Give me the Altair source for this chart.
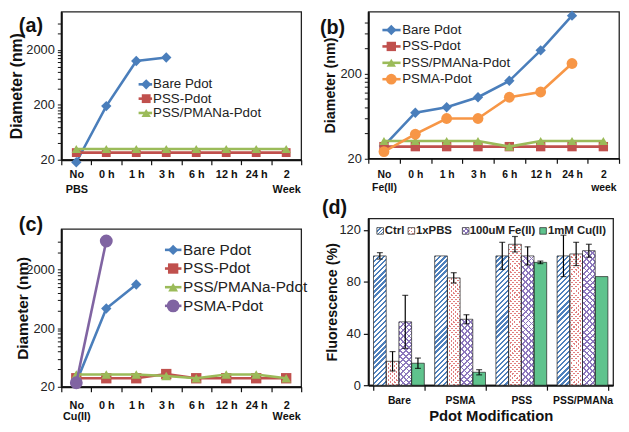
import math
import altair as alt
import pandas as pd

FONT = "Liberation Sans"
BLUE = "#4a7ebb"
RED = "#c0504d"
GREEN = "#9bbb59"
ORANGE = "#f79646"
PURPLE = "#8064a2"
INK = "#111111"

# ---------------- data: panel (a) ----------------
a_cats = ["No|PBS", "0 h", "1 h", "3 h", "6 h", "12 h", "24 h", "2|Week"]
a_names = ["Bare Pdot", "PSS-Pdot", "PSS/PMANa-Pdot"]
a_bare = [18, 190, 1260, 1460, None, None, None, None]
a_pss = [27, 27, 27, 27, 27, 27, 27, 27]
a_pmana = [31.5, 31.5, 31.5, 31.5, 31.5, 31.5, 31.5, 31.5]

# ---------------- data: panel (b) ----------------
b_cats = ["No|Fe(II)", "0 h", "1 h", "3 h", "6 h", "12 h", "24 h", "2|week"]
b_names = ["Bare Pdot", "PSS-Pdot", "PSS/PMANa-Pdot", "PSMA-Pdot"]
b_bare = [28, 69, 80, 105, 164, 375, 960, None]
b_pss = [27.5, 27.5, 27.5, 27.5, 27.5, 27.5, 27.5, 27.5]
b_pmana = [32, 32, 32, 32, 27.5, 32, 32, 32]
b_psma = [24, 38.5, 59, 59, 105, 121, 262, None]

# ---------------- data: panel (c) ----------------
c_cats = ["No|Cu(II)", "0 h", "1 h", "3 h", "6 h", "12 h", "24 h", "2|Week"]
c_names = ["Bare Pdot", "PSS-Pdot", "PSS/PMANa-Pdot", "PSMA-Pdot"]
c_bare = [24, 436, 1120, None, None, None, None, None]
c_pss = [28, 28, 28, 33, 28, 28, 28, 28]
c_pmana = [32.5, 32.5, 32.5, 30.5, 28, 32.5, 32.5, 28]
c_psma = [23.5, 6200, None, None, None, None, None, None]

# ---------------- data: panel (d) ----------------
d_groups = ["Bare", "PSMA", "PSS", "PSS/PMANa"]
d_conds = ["Ctrl", "1xPBS", "100uM Fe(II)", "1mM Cu(II)"]
d_ctrl = [100, 100, 100, 100]
d_ctrl_err = [2.5, 0, 10.5, 16]
d_pbs = [18.5, 83, 109, 101.5]
d_pbs_err = [7.5, 4, 6, 9]
d_fe = [49, 51, 100, 104]
d_fe_err = [20.5, 3.5, 7, 5]
d_cu = [17, 10, 95, 84]
d_cu_err = [4, 2, 1, 0]

ONE = pd.DataFrame({"k": [0]})


def log_ticks(tmax):
    vals = []
    base = 20
    while base <= tmax:
        for k in range(1, 10):
            if base * k <= tmax:
                vals.append(base * k)
        base *= 10
    return vals


def stripes(c1, c2, w, h, period, frac, direction):
    r = w / h
    s = (r + 1) / (r * r + 1)
    n = max(1, int(round((w + h) / (period * math.sqrt(2)))))
    stops = []
    for k in range(n):
        o0, o1, o2 = k / n, (k + frac) / n, (k + 1) / n
        stops += [alt.GradientStop(color=c1, offset=o0), alt.GradientStop(color=c1, offset=o1),
                  alt.GradientStop(color=c2, offset=o1), alt.GradientStop(color=c2, offset=o2)]
    if direction == "/":
        return alt.LinearGradient(gradient="linear", stops=stops, x1=0, y1=0, x2=s * r, y2=s)
    return alt.LinearGradient(gradient="linear", stops=stops, x1=0, y1=1, x2=s * r, y2=1 - s)


def diameter_panel(cats, names, series, colors, shapes, sizes, W, H, ymax, tmax, ylabels,
                   plabel, plabel_xy, leg, leg_font, ytitle_size, y_extent,
                   xlab_size, xlab_pad, xlab_lh):
    ticks = log_ticks(tmax)
    cond = " || ".join("datum.value == %d" % v for v in ylabels)
    x_enc = alt.X(
        "cat:N",
        scale=alt.Scale(type="band", domain=cats, paddingInner=0, paddingOuter=0),
        axis=alt.Axis(title=None, labelExpr="split(datum.label, '|')", labelAngle=0,
                      tickBand="extent", labelFont=FONT, labelFontSize=xlab_size,
                      labelFontWeight="bold", labelColor=INK, labelPadding=xlab_pad,
                      labelLineHeight=xlab_lh, labelBaseline="top", tickSize=5,
                      tickColor=INK, tickWidth=1.2, domainColor=INK, domainWidth=2,
                      grid=False),
    )
    y_enc = alt.Y(
        "v:Q",
        scale=alt.Scale(type="log", domain=[20, ymax]),
        axis=alt.Axis(title="Diameter (nm)", values=ticks,
                      labelExpr="(%s) ? format(datum.value, 'd') : ''" % cond,
                      labelOverlap=False, labelFont=FONT, labelFontSize=13,
                      labelColor="#222", labelPadding=3, tickSize=4, tickColor=INK,
                      tickWidth=1, domainColor=INK, domainWidth=2, titleFont=FONT,
                      titleFontSize=ytitle_size, titleFontWeight="bold", titleColor=INK,
                      titlePadding=0, minExtent=y_extent, maxExtent=y_extent, grid=False),
    )
    layers = []
    for name, vals, col, shp, sz in zip(names, series, colors, shapes, sizes):
        df = pd.DataFrame({"cat": [c for c, v in zip(cats, vals) if v is not None],
                           "v": [v for v in vals if v is not None]})
        layers.append(alt.Chart(df).mark_line(color=col, strokeWidth=2.6).encode(x=x_enc, y=y_enc))
        layers.append(alt.Chart(df).mark_point(shape=shp, size=sz, filled=True, color=col,
                                               opacity=1).encode(x=x_enc, y=y_enc))
    lx0, lx1, lxm, lxt, ly0, ldy = leg
    for i, (name, col, shp, sz) in enumerate(zip(names, colors, shapes, sizes)):
        yy = ly0 + i * ldy
        layers.append(alt.Chart(ONE).mark_rule(color=col, strokeWidth=2.6).encode(
            x=alt.value(lx0), x2=alt.value(lx1), y=alt.value(yy)))
        layers.append(alt.Chart(ONE).mark_point(shape=shp, size=sz, filled=True, color=col,
                                                opacity=1).encode(x=alt.value(lxm), y=alt.value(yy)))
        layers.append(alt.Chart(ONE).mark_text(align="left", baseline="middle", font=FONT,
                                               fontSize=leg_font, color="#222").encode(
            x=alt.value(lxt), y=alt.value(yy), text=alt.value(name)))
    layers.append(alt.Chart(ONE).mark_text(align="left", baseline="middle", font=FONT,
                                           fontSize=20, fontWeight="bold", color=INK).encode(
        x=alt.value(plabel_xy[0]), y=alt.value(plabel_xy[1]), text=alt.value(plabel)))
    return alt.layer(*layers).properties(width=W, height=H)


panel_a = diameter_panel(
    a_cats, a_names, [a_bare, a_pss, a_pmana], [BLUE, RED, GREEN],
    ["diamond", "square", "triangle-up"], [110, 80, 90], 243, 150, 10000, 6000,
    [20, 200, 2000],
    "(a)", (-43, 14.3), (78.3, 92, 86, 93, 73.6, 14.5), 13.5, 16, 37, 11, 4, 15)

panel_b = diameter_panel(
    b_cats, b_names, [b_bare, b_pss, b_pmana, b_psma], [BLUE, RED, GREEN, ORANGE],
    ["diamond", "square", "triangle-up", "circle"], [110, 90, 90, 120], 254, 148.6, 1069, 800,
    [20, 200],
    "(b)", (-49, 16.8), (14.3, 32.7, 23.3, 34.3, 18.6, 16.6), 13.5, 14.5, 31, 10.5, 6, 13.5)

panel_c = diameter_panel(
    c_cats, c_names, [c_bare, c_pss, c_pmana, c_psma], [BLUE, RED, GREEN, PURPLE],
    ["diamond", "square", "triangle-up", "circle"], [110, 110, 100, 170], 243, 160, 10000, 6000,
    [20, 200, 2000],
    "(c)", (-43, -4), (105, 121.7, 113.3, 123.3, 21.3, 18.9), 15.5, 15.5, 31, 11, 8, 11.5)

# ---------------- panel (d): grouped bars ----------------
DW, DH, DMAX = 248, 169, 129
PI, PO = 0.17, 0.085
step = DW / (len(d_groups) - PI + 2 * PO)
bar_w = step * (1 - PI) / len(d_conds)

rows = []
for gi, g in enumerate(d_groups):
    for cname, vals, errs in zip(d_conds, [d_ctrl, d_pbs, d_fe, d_cu],
                                 [d_ctrl_err, d_pbs_err, d_fe_err, d_cu_err]):
        rows.append({"group": g, "cond": cname, "v": vals[gi],
                     "lo": vals[gi] - errs[gi], "hi": vals[gi] + errs[gi], "err": errs[gi]})
d_df = pd.DataFrame(rows)

dx = alt.X("group:N", scale=alt.Scale(domain=d_groups, paddingInner=PI, paddingOuter=PO),
           axis=alt.Axis(title="Pdot Modification", labelAngle=0, tickBand="extent",
                         labelFont=FONT, labelFontSize=10.5, labelFontWeight="bold",
                         labelColor=INK, labelPadding=6, tickSize=5, tickColor=INK,
                         tickWidth=1.2, domainColor=INK, domainWidth=2, titleFont=FONT,
                         titleFontSize=15, titleFontWeight="bold", titleColor=INK,
                         titlePadding=2, grid=False))
dxo = alt.XOffset("cond:N", scale=alt.Scale(domain=d_conds, paddingInner=0, paddingOuter=0))
dy_ = alt.Y("v:Q", scale=alt.Scale(domain=[0, DMAX], nice=False),
            axis=alt.Axis(title="Fluorescence (%)", values=[0, 20, 40, 60, 80, 100, 120],
                          labelFont=FONT, labelFontSize=13, labelColor="#222", labelPadding=3,
                          tickSize=5, tickColor=INK, tickWidth=1.2, domainColor=INK,
                          domainWidth=2, titleFont=FONT, titleFontSize=14.5,
                          titleFontWeight="bold", titleColor=INK, titlePadding=0,
                          minExtent=29, maxExtent=29, grid=False))

CTRL_C, PBS_C, FE_C, CU_C = "#4f81bd", "#e07f7f", "#8d78bd", "#5fc38d"
CLEAR = "rgba(255,255,255,0)"


def fills_for(cond, w, h, small=False):
    if cond == "Ctrl":
        return [stripes(CTRL_C, "white", w, h, 3.6 if not small else 2.4, 0.45, "/")]
    if cond == "1xPBS":
        return [stripes(PBS_C, "white", w, h, 3.0 if not small else 2.2, 0.5, "/"),
                stripes("white", CLEAR, w, h, 3.0 if not small else 2.2, 0.5, "\\")]
    if cond == "100uM Fe(II)":
        return [stripes(FE_C, "white", w, h, 4.2 if not small else 3.0, 0.3, "/"),
                stripes(FE_C, CLEAR, w, h, 4.2 if not small else 3.0, 0.3, "\\")]
    return [CU_C]


d_layers = []
for _, r in d_df.iterrows():
    one = pd.DataFrame([{"group": r["group"], "cond": r["cond"], "v": r["v"]}])
    hpx = r["v"] * DH / DMAX
    for f in fills_for(r["cond"], bar_w, hpx):
        d_layers.append(alt.Chart(one).mark_bar(fill=f, strokeWidth=0).encode(
            x=dx, xOffset=dxo, y=dy_))
d_layers.append(alt.Chart(d_df).mark_bar(fillOpacity=0, stroke="#222", strokeWidth=0.7).encode(
    x=dx, xOffset=dxo, y=dy_))
err_df = d_df[d_df["err"] > 0]
d_layers.append(alt.Chart(err_df).mark_rule(color="black", strokeWidth=1.2).encode(
    x=dx, xOffset=dxo, y=alt.Y("lo:Q", scale=alt.Scale(domain=[0, DMAX], nice=False)),
    y2="hi:Q"))
for fld in ["lo", "hi"]:
    d_layers.append(alt.Chart(err_df).mark_tick(color="black", thickness=1.2, size=6).encode(
        x=dx, xOffset=dxo, y=alt.Y(fld + ":Q", scale=alt.Scale(domain=[0, DMAX], nice=False))))

leg_sym_x = [8.7, 40.3, 95.3, 173.7]
leg_txt_x = [16.7, 48.3, 102.7, 182]
leg_y = 12.7
for cname, sx, tx in zip(d_conds, leg_sym_x, leg_txt_x):
    for f in fills_for(cname, 6.7, 6.7, small=True):
        d_layers.append(alt.Chart(ONE).mark_rect(fill=f, strokeWidth=0).encode(
            x=alt.value(sx), x2=alt.value(sx + 6.7), y=alt.value(leg_y - 3.35),
            y2=alt.value(leg_y + 3.35)))
    d_layers.append(alt.Chart(ONE).mark_rect(fillOpacity=0, stroke="#222", strokeWidth=0.7).encode(
        x=alt.value(sx), x2=alt.value(sx + 6.7), y=alt.value(leg_y - 3.35),
        y2=alt.value(leg_y + 3.35)))
    d_layers.append(alt.Chart(ONE).mark_text(align="left", baseline="middle", font=FONT,
                                             fontSize=11.5, fontWeight="bold", color="#222").encode(
        x=alt.value(tx), y=alt.value(leg_y), text=alt.value(cname)))
d_layers.append(alt.Chart(ONE).mark_text(align="left", baseline="middle", font=FONT, fontSize=20,
                                         fontWeight="bold", color=INK).encode(
    x=alt.value(-47), y=alt.value(-10), text=alt.value("(d)")))
panel_d = alt.layer(*d_layers).properties(width=DW, height=DH)

col_left = alt.vconcat(panel_a, panel_c, spacing=19)
col_right = alt.vconcat(panel_b, panel_d, spacing=3.4)
chart = alt.hconcat(col_left, col_right, spacing=11).properties(
    padding={"left": 0, "top": -1, "right": 0, "bottom": 0}
).configure(font=FONT).configure_view(stroke="#222", strokeWidth=1.3)

chart.save("out.html", embed_options={"renderer": "svg", "actions": False})
